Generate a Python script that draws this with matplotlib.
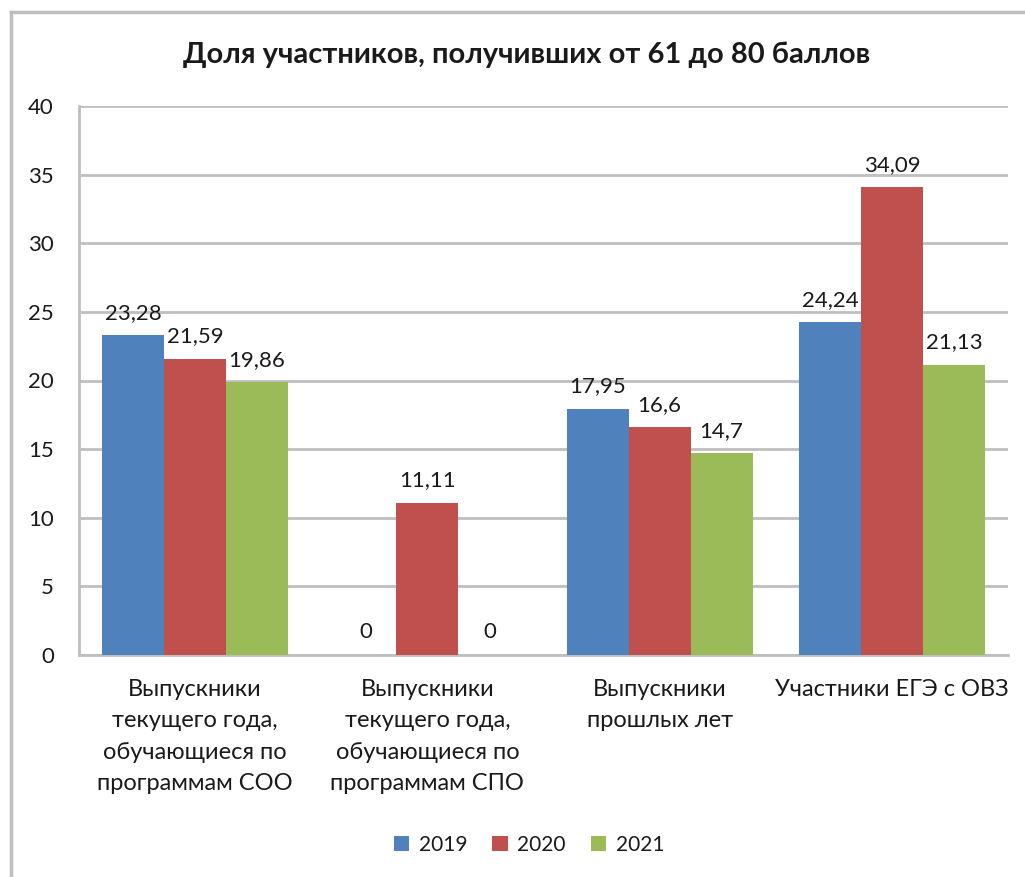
import numpy as np
import matplotlib.pyplot as plt
from matplotlib.lines import Line2D

# data
categories = ['Выпускники\nтекущего года,\nобучающиеся по\nпрограммам СОО',
              'Выпускники\nтекущего года,\nобучающиеся по\nпрограммам СПО',
              'Выпускники\nпрошлых лет',
              'Участники ЕГЭ с ОВЗ']
years = ['2019', '2020', '2021']
vals_2019 = [23.28, 0, 17.95, 24.24]
vals_2020 = [21.59, 11.11, 16.6, 34.09]
vals_2021 = [19.86, 0, 14.7, 21.13]
labels_2019 = ['23,28', '0', '17,95', '24,24']
labels_2020 = ['21,59', '11,11', '16,6', '34,09']
labels_2021 = ['19,86', '0', '14,7', '21,13']

colors = ['#4F81BD', '#C0504D', '#9BBB59']
grid_c = '#BFBFBF'
txt_c = '#1a1a1a'

plt.rcParams['font.family'] = ['Lato', 'DejaVu Sans']

W, H = 1025, 877
fig = plt.figure(figsize=(W / 100, H / 100), dpi=100)
ax = fig.add_axes([79 / W, 1 - 655 / H, (1008 - 79) / W, (655 - 106) / H])

x = np.arange(len(categories))
w = 0.267
series = [(vals_2019, labels_2019), (vals_2020, labels_2020), (vals_2021, labels_2021)]
for i, (vals, labs) in enumerate(series):
    pos = x + (i - 1) * w
    ax.bar(pos, vals, width=w, color=colors[i], label=years[i], zorder=3)
    for px, v, lab in zip(pos, vals, labs):
        ax.annotate(lab, (px, v), xytext=(0, 9), textcoords='offset points',
                    ha='center', va='bottom', fontsize=16, color=txt_c)

ax.set_xlim(-0.5, 3.5)
ax.set_ylim(0, 40)
ax.set_yticks(range(0, 41, 5))
ax.set_xticks(x)
ax.set_xticklabels(categories, fontsize=17, color=txt_c, linespacing=1.62, va='top')
ax.tick_params(axis='y', length=0, pad=18, labelsize=16, labelcolor=txt_c)
ax.tick_params(axis='x', length=0, pad=17)
ax.grid(axis='y', color=grid_c, lw=2, zorder=0)
for s in ['top', 'right']:
    ax.spines[s].set_visible(False)
for s in ['left', 'bottom']:
    ax.spines[s].set_color(grid_c)
    ax.spines[s].set_linewidth(2)

fig.text(527 / W, 1 - 55 / H, 'Доля участников, получивших от 61 до 80 баллов',
         ha='center', va='center', fontsize=21, fontweight='bold', color=txt_c)

fig.legend(loc='center', bbox_to_anchor=(529 / W, 1 - 845 / H), ncol=3, frameon=False,
           fontsize=15, handlelength=0.75, handleheight=0.75, handletextpad=0.45,
           columnspacing=1.2, labelcolor=txt_c)

# outer chart frame (left and top edges visible)
fig.add_artist(Line2D([11 / W, 11 / W], [0, 1 - 12 / H], transform=fig.transFigure,
                      color=grid_c, lw=2.5))
fig.add_artist(Line2D([11 / W, 1], [1 - 12 / H, 1 - 12 / H], transform=fig.transFigure,
                      color=grid_c, lw=2.5))

fig.savefig('out.png', dpi=100)
